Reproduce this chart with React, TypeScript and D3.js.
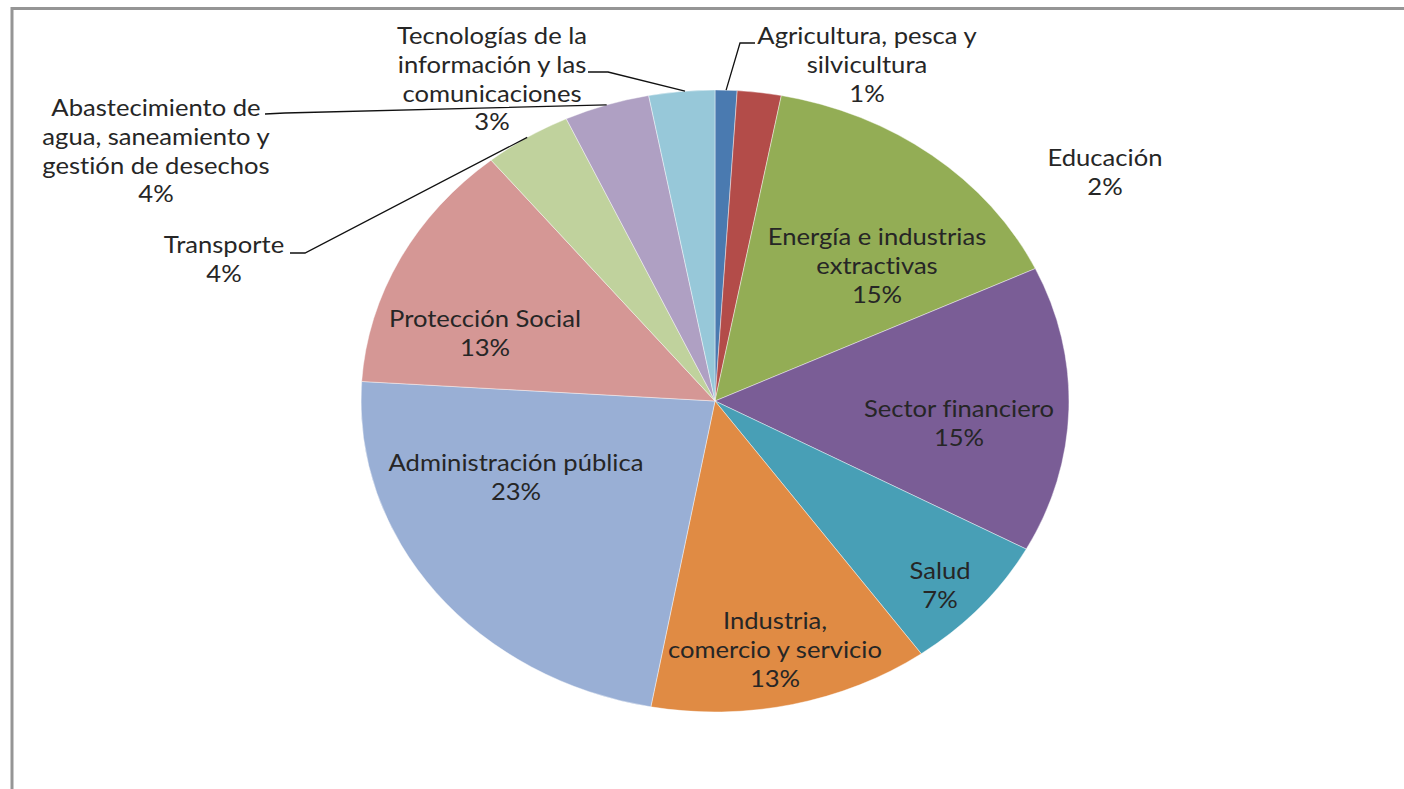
import React from "react";
import * as d3 from "d3";

const categories = [
  "Agricultura, pesca y silvicultura",
  "Educación",
  "Energía e industrias extractivas",
  "Sector financiero",
  "Salud",
  "Industria, comercio y servicio",
  "Administración pública",
  "Protección Social",
  "Transporte",
  "Abastecimiento de agua, saneamiento y gestión de desechos",
  "Tecnologías de la información y las comunicaciones",
];
const values = [1.0, 2.0, 15.0, 14.9, 7.2, 12.8, 23.1, 13.1, 4.0, 3.9, 3.0];
const colors = [
  "#4A7AB0", "#B34C49", "#93AD55", "#7A5D96", "#489FB6", "#E08B44",
  "#99AFD5", "#D59795", "#C0D29D", "#AFA0C3", "#97C8D9",
];
// label text lines (wrapped as in the reference)
const labelLines = [
  ["Agricultura, pesca y", "silvicultura"],
  ["Educación"],
  ["Energía e industrias", "extractivas"],
  ["Sector financiero"],
  ["Salud"],
  ["Industria,", "comercio y servicio"],
  ["Administración pública"],
  ["Protección Social"],
  ["Transporte"],
  ["Abastecimiento de", "agua, saneamiento y", "gestión de desechos"],
  ["Tecnologías de la", "información y las", "comunicaciones"],
];

// layout (label anchors: center x, first baseline y)
const W = 1404, H = 789;
const cx = 715, cy = 401, ry = 311, rx = 354;
const labelAnchor: [number, number][] = [
  [867, 44], [1105, 166], [877, 245], [959, 417], [940, 579], [775, 629],
  [516, 471], [485, 327], [224, 253], [156, 116], [492, 44],
];
const lineH = 28.8;

export default function App() {
  const pie = d3.pie<number>().sort(null).value((d) => d)(values);
  const arc = d3.arc<d3.PieArcDatum<number>>().innerRadius(0).outerRadius(ry);
  const sx = rx / ry;
  const total = d3.sum(values);
  const pct = values.map((v) => `${Math.round((v / total) * 100)}%`);

  const edge = (frac: number): [number, number] => {
    const a = frac * 2 * Math.PI;
    return [cx + rx * Math.sin(a), cy - ry * Math.cos(a)];
  };
  const cum = d3.cumsum(values).map((c) => c / total);
  const start = [0, ...cum.slice(0, -1)];
  const pAt = (i: number, t: number) => edge(start[i] + (cum[i] - start[i]) * t);

  const leaders: { i: number; pts: [number, number][] }[] = [
    { i: 0, pts: [[755, 43], [740, 43], pAt(0, 0.5)] },
    { i: 10, pts: [[588, 72], [608, 72], pAt(10, 0.55)] },
    { i: 9, pts: [[265, 114], [285, 113], pAt(9, 0.5)] },
    { i: 8, pts: [[290, 253], [305, 253], pAt(8, 0.5)] },
  ];
  const line = d3.line();

  return (
    <svg
      width={W}
      height={H}
      style={{ position: "fixed", left: 0, top: 0, background: "#fff" }}
    >
      <rect x={0} y={0} width={W} height={H} fill="#fff" />
      <line x1={12} y1={8.5} x2={W} y2={8.5} stroke="#959595" strokeWidth={3} />
      <line x1={12} y1={7} x2={12} y2={H} stroke="#959595" strokeWidth={3} />
      <g transform={`translate(${cx},${cy}) scale(${sx},1)`}>
        {pie.map((d, i) => (
          <path key={i} d={arc(d) || ""} fill={colors[i]} stroke="#fff" strokeWidth={0.4} />
        ))}
      </g>
      {leaders.map((l) => (
        <path key={l.i} d={line(l.pts) || ""} fill="none" stroke="#111" strokeWidth={1.3} />
      ))}
      <g
        fontFamily="Lato, 'Open Sans', sans-serif"
        fontSize={22.5}
        fill="#262626"
        textAnchor="middle"
        style={{ fontVariantLigatures: "none" }}
      >
        {labelLines.map((lines, i) => (
          <g key={i} transform={`translate(${labelAnchor[i][0]},${labelAnchor[i][1]}) scale(${sx},1)`}>
            <text>
              {[...lines, pct[i]].map((t, j) => (
                <tspan key={j} x={0} y={j * lineH}>
                  {t}
                </tspan>
              ))}
            </text>
          </g>
        ))}
      </g>
    </svg>
  );
}
